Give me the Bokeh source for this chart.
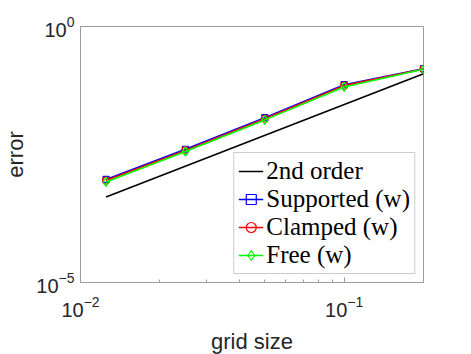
from bokeh.plotting import figure
from bokeh.models import Range1d, FixedTicker, Legend, LegendItem
from bokeh.embed import file_html
from bokeh.resources import INLINE

# data
grid_size = [0.0125, 0.025, 0.05, 0.1, 0.2]
supported_w = [0.00103, 0.0040, 0.0166, 0.073, 0.150]
clamped_w = [0.00098, 0.0038, 0.0158, 0.070, 0.148]
free_w = [0.00092, 0.0036, 0.0150, 0.066, 0.146]
order2_x = [0.0125, 0.2]
order2_y = [0.00047, 0.12]
x_major = [0.01, 0.1]
x_minor = [0.02, 0.03, 0.04, 0.05, 0.06, 0.07, 0.08, 0.09, 0.2]
y_major = [1e-5, 1.0]

GREY = "#9a9a9a"
TXT = "#262626"

p = figure(frame_width=343, frame_height=256, x_axis_type="log", y_axis_type="log",
           x_range=Range1d(0.01, 0.2), y_range=Range1d(1e-5, 1.0),
           output_backend="svg", toolbar_location=None,
           min_border_left=78, min_border_right=33, min_border_top=26, min_border_bottom=60)
p.background_fill_color = "white"
p.border_fill_color = "white"
p.outline_line_color = GREY
p.outline_line_width = 1
p.xgrid.visible = False
p.ygrid.visible = False

p.xaxis.ticker = FixedTicker(ticks=x_major, minor_ticks=x_minor)
p.yaxis.ticker = FixedTicker(ticks=y_major, minor_ticks=[])
for ax in (p.xaxis, p.yaxis):
    ax.axis_line_color = GREY
    ax.major_tick_line_color = GREY
    ax.minor_tick_line_color = GREY
    ax.major_tick_in = 5
    ax.major_tick_out = 0
    ax.minor_tick_in = 3
    ax.minor_tick_out = 0
    ax.major_label_text_font = "Liberation Sans"
    ax.major_label_text_font_size = "20px"
    ax.major_label_text_color = TXT
    ax.axis_label_text_font = "Liberation Sans"
    ax.axis_label_text_font_size = "22px"
    ax.axis_label_text_font_style = "normal"
    ax.axis_label_text_color = TXT

p.xaxis.axis_label = "grid size"
p.yaxis.axis_label = "error"
p.xaxis.major_label_standoff = 13
p.xaxis.axis_label_standoff = 9
p.yaxis.major_label_standoff = 6
p.yaxis.axis_label_standoff = 5

r_ord = p.line(order2_x, order2_y, line_color="black", line_width=1.6)

r_sl = p.line(grid_size, supported_w, line_color="#0000ff", line_width=1.6)
r_ss = p.scatter(grid_size, supported_w, marker="square", size=6, line_color="#0000ff",
                 fill_color=None, line_width=1.2)
r_cl = p.line(grid_size, clamped_w, line_color="#ff0000", line_width=1.6)
r_cs = p.scatter(grid_size, clamped_w, marker="circle", size=7, line_color="#ff0000",
                 fill_color=None, line_width=1.2)
r_fl = p.line(grid_size, free_w, line_color="#00ff00", line_width=1.6)
r_fs = p.scatter(grid_size, free_w, marker="diamond", size=9, line_color="#00ff00",
                 fill_color=None, line_width=1.2)

legend = Legend(items=[
    LegendItem(label="2nd order", renderers=[r_ord]),
    LegendItem(label="Supported (w)", renderers=[r_sl, r_ss]),
    LegendItem(label="Clamped (w)", renderers=[r_cl, r_cs]),
    LegendItem(label="Free (w)", renderers=[r_fl, r_fs]),
], location="bottom_right")
legend.label_text_font = "Liberation Serif"
legend.label_text_font_size = "25px"
legend.label_text_color = "black"
legend.glyph_width = 25
legend.glyph_height = 28
legend.label_height = 28
legend.label_standoff = 3
legend.spacing = 0
legend.padding = 4
legend.margin = 8
legend.border_line_color = GREY
legend.border_line_width = 1
legend.background_fill_color = "white"
legend.background_fill_alpha = 1.0
p.add_layout(legend)

open("out.html", "w").write(file_html(p, INLINE))
